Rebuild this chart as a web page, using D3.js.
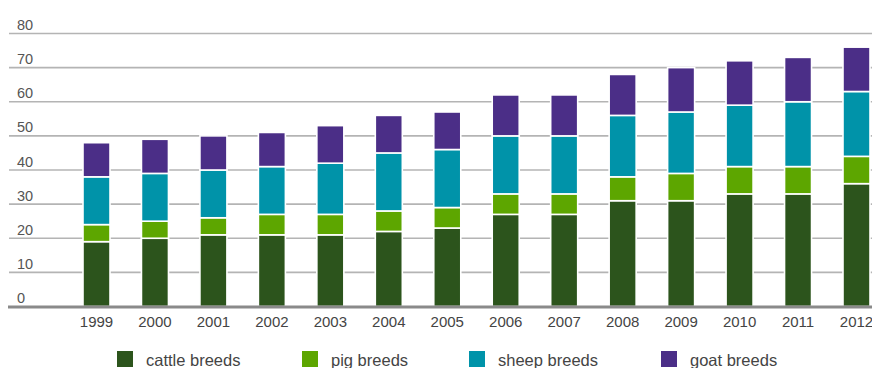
<!DOCTYPE html>
<html>
<head>
<meta charset="utf-8">
<script src="https://cdn.jsdelivr.net/npm/d3@7"></script>
<style>
  html, body { margin: 0; padding: 0; background: #fff; }
  svg { display: block; }
  text { font-family: "Liberation Sans", Arial, sans-serif; }
</style>
</head>
<body>
<svg id="chart" width="872" height="368"></svg>
<script>
const years = ["1999","2000","2001","2002","2003","2004","2005","2006","2007","2008","2009","2010","2011","2012"];
const cattle = [19, 20, 21, 21, 21, 22, 23, 27, 27, 31, 31, 33, 33, 36];
const pig    = [ 5,  5,  5,  6,  6,  6,  6,  6,  6,  7,  8,  8,  8,  8];
const sheep  = [14, 14, 14, 14, 15, 17, 17, 17, 17, 18, 18, 18, 19, 19];
const goat   = [10, 10, 10, 10, 11, 11, 11, 12, 12, 12, 13, 13, 13, 13];
const seriesNames = ["cattle breeds", "pig breeds", "sheep breeds", "goat breeds"];
const seriesKeys = ["cattle", "pig", "sheep", "goat"];
const colors = ["#2c541c", "#5da600", "#0093a9", "#4b2e87"];
const yTicks = [0, 10, 20, 30, 40, 50, 60, 70, 80];

const table = years.map((y, i) => ({year: y, cattle: cattle[i], pig: pig[i], sheep: sheep[i], goat: goat[i]}));
const stacked = d3.stack().keys(seriesKeys)(table);

const svg = d3.select("#chart");

const x = d3.scaleBand().domain(years).range([67.27, 885.73]).paddingInner(0.538).paddingOuter(0.269);
const y = d3.scaleLinear().domain([0, 80]).range([306.5, 33.5]);

const gridLeft = 9, gridRight = 872;

// gridlines
svg.append("g").selectAll("line").data(yTicks.filter(t => t > 0)).join("line")
  .attr("x1", gridLeft).attr("x2", gridRight)
  .attr("y1", d => y(d)).attr("y2", d => y(d))
  .attr("stroke", "#b4b4b4").attr("stroke-width", 1.6);

// y labels
const yAxis = d3.axisLeft(y).tickValues(yTicks).tickSize(0).tickPadding(0);
const gy = svg.append("g").attr("transform", "translate(17,0)").call(yAxis);
gy.select(".domain").remove();
gy.selectAll("text")
  .attr("text-anchor", "start").attr("x", 0).attr("dy", 0).attr("y", -4)
  .attr("fill", "#555").style("font-size", "14.5px").style("font-family", "Liberation Sans, Arial, sans-serif");

// bars
svg.append("g").selectAll("g").data(stacked).join("g")
  .attr("fill", (d, i) => colors[i])
  .selectAll("rect").data(d => d).join("rect")
  .attr("x", d => x(d.data.year))
  .attr("width", x.bandwidth())
  .attr("y", d => y(d[1]))
  .attr("height", d => y(d[0]) - y(d[1]))
  .attr("stroke", "#fff").attr("stroke-width", 1.6);

// baseline
svg.append("line").attr("x1", 8).attr("x2", gridRight)
  .attr("y1", y(0) + 0.5).attr("y2", y(0) + 0.5)
  .attr("stroke", "#8a8a8a").attr("stroke-width", 3);

// x axis labels
const xAxis = d3.axisBottom(x).tickSize(0).tickPadding(0);
const gx = svg.append("g").attr("transform", "translate(0,327)").call(xAxis);
gx.select(".domain").remove();
gx.selectAll("text").attr("dy", 0).attr("y", 0)
  .attr("fill", "#444").style("font-size", "15px").style("font-family", "Liberation Sans, Arial, sans-serif");

// legend
const legendX = [117, 302, 469, 661];
const legend = svg.append("g");
seriesNames.forEach((name, i) => {
  const g = legend.append("g").attr("transform", `translate(${legendX[i]},0)`);
  g.append("rect").attr("x", 0).attr("y", 351).attr("width", 16).attr("height", 16).attr("fill", colors[i]);
  g.append("text").attr("x", 29).attr("y", 366).text(name)
    .attr("fill", "#444").style("font-size", "16.5px");
});
</script>
</body>
</html>
